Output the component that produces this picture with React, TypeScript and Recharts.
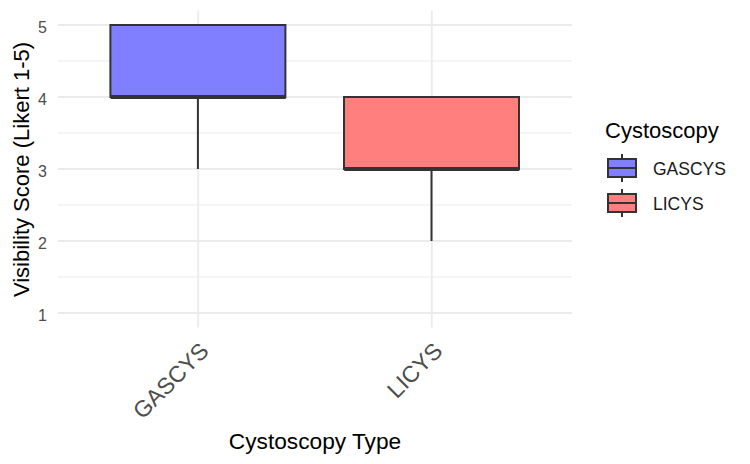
import React from 'react';
import { ComposedChart, Bar, Scatter, XAxis, YAxis, CartesianGrid, Cell, Legend } from 'recharts';

const categories = ['GASCYS', 'LICYS'];
const minValues = [3, 2];
const q1Values = [4, 3];
const medianValues = [4, 3];
const q3Values = [5, 4];
const maxValues = [5, 4];
const fillColors = ['#7f7fff', '#ff7f7f'];
const yTicks = [1, 2, 3, 4, 5];
const yMinorTicks = [1.5, 2.5, 3.5, 4.5];

const data = categories.map((name, i) => ({
  name,
  lower: [minValues[i], q1Values[i]],
  box: [q1Values[i], q3Values[i]],
  upper: [q3Values[i], maxValues[i]],
  median: medianValues[i],
}));

const FONT = '"Liberation Sans", Arial, sans-serif';
const INK = '#333333';
const BOX_WIDTH = 175;

const WhiskerShape = (props: any) => {
  const { x, y, width, height } = props;
  const top = Math.min(y, y + height);
  const bottom = Math.max(y, y + height);
  const cx = x + width / 2;
  return <line x1={cx} x2={cx} y1={top} y2={bottom} stroke={INK} strokeWidth={2} />;
};

const BoxShape = (props: any) => {
  const { x, y, width, height, fill } = props;
  const top = Math.min(y, y + height);
  return (
    <rect x={x} y={top} width={width} height={Math.abs(height)} fill={fill} stroke={INK} strokeWidth={2} />
  );
};

const MedianShape = (props: any) => {
  const { cx, cy } = props;
  return (
    <line x1={cx - BOX_WIDTH / 2} x2={cx + BOX_WIDTH / 2} y1={cy} y2={cy} stroke={INK} strokeWidth={4} />
  );
};

const XTick = (props: any) => {
  const { x, y, payload } = props;
  return (
    <g transform={`translate(${x},${y})`}>
      <text
        x={12}
        y={-13}
        textAnchor="end"
        transform="rotate(-45, 12, -13)"
        fill="#4d4d4d"
        fontSize={23}
        fontFamily={FONT}
      >
        {payload.value}
      </text>
    </g>
  );
};

const YTick = (props: any) => {
  const { y, payload } = props;
  return (
    <text x={47} y={y + 7.5} textAnchor="end" fill="#4d4d4d" fontSize={16} fontFamily={FONT}>
      {payload.value}
    </text>
  );
};

const LegendBox = () => (
  <div style={{ fontFamily: FONT }}>
    <svg width={150} height={120}>
      <text x={5} y={26} fontSize={22} fill="#000">Cystoscopy</text>
      {categories.map((name, i) => {
        const cy = 56 + i * 35;
        return (
          <g key={name}>
            <line x1={22} x2={22} y1={cy - 14} y2={cy + 14} stroke={INK} strokeWidth={2} />
            <rect x={8} y={cy - 9} width={28} height={18} fill={fillColors[i]} stroke={INK} strokeWidth={2} />
            <line x1={8} x2={36} y1={cy} y2={cy} stroke={INK} strokeWidth={2} />
            <text x={53} y={cy + 7} fontSize={17.5} fill="#1a1a1a">{name}</text>
          </g>
        );
      })}
    </svg>
  </div>
);

const xAxisCommon = {
  dataKey: 'name',
  type: 'category' as const,
  padding: { left: 23.4, right: 23.4 },
};

export default function App() {
  return (
    <div style={{ position: 'absolute', left: 0, top: 0, width: 750, height: 464, background: '#fff' }}>
      <ComposedChart
        width={750}
        height={464}
        data={data}
        margin={{ top: 10.6, right: 178, bottom: 106.6, left: 0 }}
      >
        <CartesianGrid
          xAxisId="main"
          vertical={false}
          horizontalValues={yMinorTicks}
          syncWithTicks
          stroke="#ebebeb"
          strokeWidth={1}
        />
        <CartesianGrid xAxisId="main" syncWithTicks stroke="#ebebeb" strokeWidth={1.8} />
        <XAxis
          xAxisId="main"
          {...xAxisCommon}
          height={30}
          axisLine={false}
          tickLine={false}
          tick={<XTick />}
          interval={0}
          label={{
            content: () => (
              <text x={315} y={449} textAnchor="middle" fontSize={22.7} fontFamily={FONT} fill="#000">
                Cystoscopy Type
              </text>
            ),
          }}
        />
        <XAxis xAxisId="box" {...xAxisCommon} hide />
        <XAxis xAxisId="upper" {...xAxisCommon} hide />
        <YAxis
          type="number"
          domain={[0.8, 5.2]}
          allowDataOverflow
          ticks={yTicks}
          axisLine={false}
          tickLine={false}
          width={58}
          tick={<YTick />}
          label={{
            content: () => (
              <text
                x={29}
                y={169.5}
                textAnchor="middle"
                transform="rotate(-90, 29, 169.5)"
                fontSize={22}
                fontFamily={FONT}
                fill="#000"
              >
                Visibility Score (Likert 1-5)
              </text>
            ),
          }}
        />
        <Bar xAxisId="main" dataKey="lower" barSize={BOX_WIDTH} shape={<WhiskerShape />} isAnimationActive={false} />
        <Bar xAxisId="upper" dataKey="upper" barSize={BOX_WIDTH} shape={<WhiskerShape />} isAnimationActive={false} />
        <Bar xAxisId="box" dataKey="box" barSize={BOX_WIDTH} shape={<BoxShape />} isAnimationActive={false}>
          {data.map((d, i) => (
            <Cell key={d.name} fill={fillColors[i]} />
          ))}
        </Bar>
        <Scatter xAxisId="main" dataKey="median" shape={<MedianShape />} isAnimationActive={false} />
        <Legend
          layout="vertical"
          align="center"
          verticalAlign="middle"
          content={<LegendBox />}
          wrapperStyle={{ left: 600, top: 112, width: 150 }}
        />
      </ComposedChart>
    </div>
  );
}
